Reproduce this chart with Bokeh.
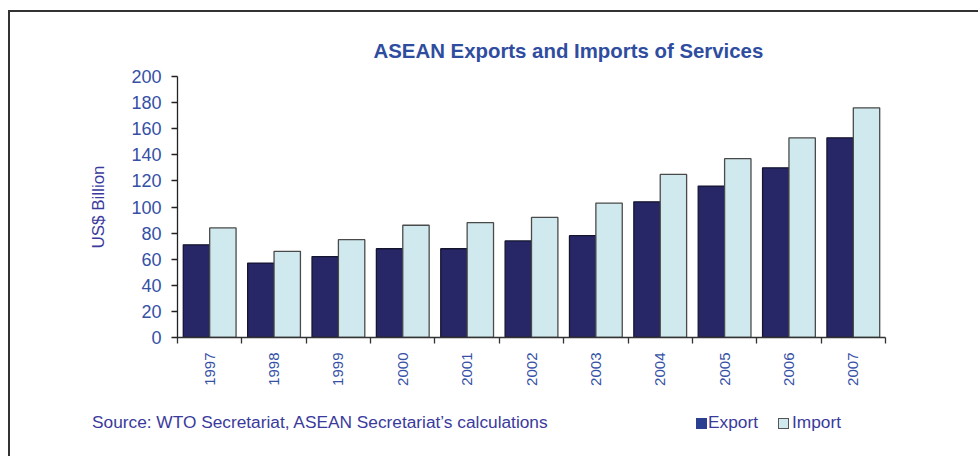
import numpy as np
from bokeh.plotting import figure
from bokeh.layouts import column
from bokeh.models import Range1d, FixedTicker, ColumnDataSource, Div
from bokeh.transform import dodge
from bokeh.embed import file_html
from bokeh.resources import INLINE

years = ["1997", "1998", "1999", "2000", "2001", "2002", "2003", "2004", "2005", "2006", "2007"]
export_vals = [71, 57, 62, 68, 68, 74, 78, 104, 116, 130, 153]
import_vals = [84, 66, 75, 86, 88, 92, 103, 125, 137, 153, 176]
y_ticks = [0, 20, 40, 60, 80, 100, 120, 140, 160, 180, 200]
series_names = ["Export", "Import"]

title_text = "ASEAN Exports and Imports of Services"
source_text = "Source: WTO Secretariat, ASEAN Secretariat\u2019s calculations"
y_label = "US$ Billion"

FONT = "Liberation Sans"
TICK_BLUE = "#3550a5"
TITLE_BLUE = "#2f4d9f"
TEXT_BLUE = "#3a3a9c"
EXP_FILL, EXP_LINE = "#272768", "#151530"
IMP_FILL, IMP_LINE = "#cfe9ee", "#4a4a4a"

n = len(years)
src = ColumnDataSource(dict(x=np.arange(n) + 0.5, exp=export_vals, imp=import_vals))

# ---------------- main chart ----------------
p = figure(width=968, height=388, output_backend="svg", toolbar_location=None,
           x_range=Range1d(0, n), y_range=Range1d(y_ticks[0], y_ticks[-1]),
           min_border_left=167, min_border_right=93, min_border_top=64,
           min_border_bottom=63, outline_line_color=None)
p.grid.visible = False

p.title.text = title_text
p.title.align = "left"
p.title.offset = 196
p.title.standoff = 29
p.title.text_font = FONT
p.title.text_font_size = "20.4px"
p.title.text_font_style = "bold"
p.title.text_color = TITLE_BLUE

bw = 0.41
p.vbar(x=dodge("x", -bw / 2, range=p.x_range), top="exp", width=bw, source=src,
       fill_color=EXP_FILL, line_color=EXP_LINE, line_width=1.3,
       legend_label=series_names[0])
p.vbar(x=dodge("x", bw / 2, range=p.x_range), top="imp", width=bw, source=src,
       fill_color=IMP_FILL, line_color=IMP_LINE, line_width=1.3,
       legend_label=series_names[1])
p.legend.visible = False  # legend is drawn in the footer row below

xa = p.xaxis[0]
xa.ticker = FixedTicker(ticks=list(np.arange(n) + 0.5), minor_ticks=list(range(n + 1)))
xa.major_label_overrides = {float(i + 0.5): y for i, y in enumerate(years)}
xa.major_tick_out = 0
xa.major_tick_in = 0
xa.minor_tick_out = 6
xa.minor_tick_in = 0
xa.minor_tick_line_color = "#333333"
xa.minor_tick_line_width = 1.3
xa.axis_line_color = "#333333"
xa.axis_line_width = 1.3
xa.major_label_orientation = np.pi / 2
xa.major_label_standoff = 9
xa.major_label_text_font = FONT
xa.major_label_text_font_size = "15px"
xa.major_label_text_color = TICK_BLUE

ya = p.yaxis[0]
ya.ticker = FixedTicker(ticks=y_ticks)
ya.minor_tick_line_color = None
ya.major_tick_out = 6
ya.major_tick_in = 0
ya.major_tick_line_color = "#222222"
ya.major_tick_line_width = 1.3
ya.axis_line_color = "#222222"
ya.axis_line_width = 1.3
ya.major_label_standoff = 10
ya.major_label_text_font = FONT
ya.major_label_text_font_size = "18px"
ya.major_label_text_color = TICK_BLUE
ya.axis_label = y_label
ya.axis_label_standoff = 20
ya.axis_label_text_font = FONT
ya.axis_label_text_font_size = "17px"
ya.axis_label_text_font_style = "normal"
ya.axis_label_text_color = TEXT_BLUE

# ---------------- footer: source note + legend ----------------
footer_html = f"""
<div style="position:relative;width:960px;height:46px;font-family:'{FONT}',Arial,sans-serif;
            font-size:17.3px;line-height:19px;color:{TEXT_BLUE};">
  <span style="position:absolute;left:77px;top:8px;white-space:nowrap;">{source_text}</span>
  <span style="position:absolute;left:681px;top:13px;width:11px;height:11px;
               background:#2b3f90;box-sizing:border-box;"></span>
  <span style="position:absolute;left:693px;top:8px;white-space:nowrap;">{series_names[0]}</span>
  <span style="position:absolute;left:763px;top:13px;width:11px;height:11px;
               background:{IMP_FILL};border:1.5px solid #555555;box-sizing:border-box;"></span>
  <span style="position:absolute;left:777px;top:8px;white-space:nowrap;">{series_names[1]}</span>
</div>
"""
footer = Div(text=footer_html, width=958, height=46)

layout = column(p, footer, spacing=0,
                styles={"margin-left": "8px", "margin-top": "10px",
                        "border-left": "2px solid #333333",
                        "border-top": "2px solid #333333"})

open("out.html", "w").write(file_html(layout, INLINE))
